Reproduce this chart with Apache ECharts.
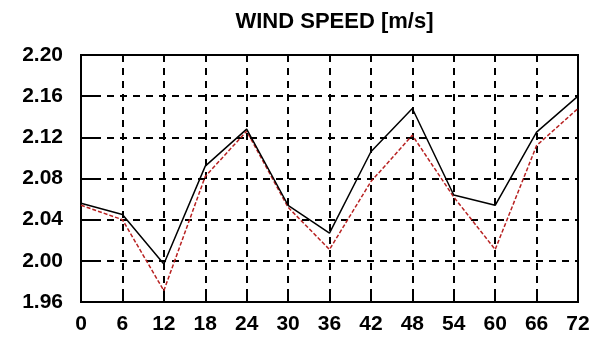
<!DOCTYPE html>
<html>
<head>
<meta charset="utf-8">
<script src="https://cdn.jsdelivr.net/npm/echarts@6/dist/echarts.min.js"></script>
<style>
  html, body { margin: 0; padding: 0; background: #fff; }
  #chart { width: 599px; height: 337px; }
</style>
</head>
<body>
<div id="chart"></div>
<script>
// Forecast hours along the x axis
const hours = [0, 6, 12, 18, 24, 30, 36, 42, 48, 54, 60, 66, 72];
// Wind speed [m/s], solid black run
const speedSolid = [2.056, 2.045, 1.997, 2.092, 2.128, 2.054, 2.027, 2.106, 2.148, 2.064, 2.054, 2.125, 2.160];
// Wind speed [m/s], dashed red run
const speedDashed = [2.054, 2.040, 1.971, 2.082, 2.126, 2.052, 2.011, 2.077, 2.122, 2.062, 2.011, 2.112, 2.148];
// Y axis range and step
const yMin = 1.96, yMax = 2.20, yStep = 0.04;
const xStep = 6;

const chart = echarts.init(document.getElementById('chart'), null, { renderer: 'canvas' });
const labelFont = { fontFamily: 'Liberation Sans', fontWeight: 'bold', fontSize: 21, color: '#000' };

chart.setOption({
  animation: false,
  backgroundColor: '#fff',
  title: {
    text: 'WIND SPEED [m/s]',
    left: 329.5,
    textAlign: 'center',
    top: 6,
    textStyle: { fontFamily: 'Liberation Sans', fontWeight: 'bold', fontSize: 22, color: '#000' }
  },
  grid: {
    left: 81, right: 21, top: 55, bottom: 35,
    show: true, borderColor: '#000', borderWidth: 2, backgroundColor: 'transparent'
  },
  xAxis: {
    type: 'value',
    min: hours[0], max: hours[hours.length - 1], interval: xStep,
    axisLine: { show: true, lineStyle: { color: '#000', width: 2 } },
    axisTick: { show: true, inside: true, length: 10, lineStyle: { color: '#000', width: 2 } },
    splitLine: { show: true, lineStyle: { color: '#000', width: 2, type: [7, 6] } },
    axisLabel: Object.assign({ margin: 12 }, labelFont)
  },
  yAxis: {
    type: 'value',
    min: yMin, max: yMax, interval: yStep,
    axisLine: { show: true, lineStyle: { color: '#000', width: 2 } },
    axisTick: { show: true, inside: true, length: 19, lineStyle: { color: '#000', width: 2 } },
    splitLine: { show: true, lineStyle: { color: '#000', width: 2, type: [7, 6] } },
    axisLabel: Object.assign({ margin: 18, formatter: v => v.toFixed(2) }, labelFont)
  },
  series: [
    {
      type: 'line',
      data: hours.map((h, i) => [h, speedDashed[i]]),
      symbol: 'none',
      lineStyle: { color: '#b82222', width: 1.5, type: [4, 2] },
      z: 3
    },
    {
      type: 'line',
      data: hours.map((h, i) => [h, speedSolid[i]]),
      symbol: 'none',
      lineStyle: { color: '#000', width: 1.5 },
      z: 4
    }
  ]
});
</script>
</body>
</html>
